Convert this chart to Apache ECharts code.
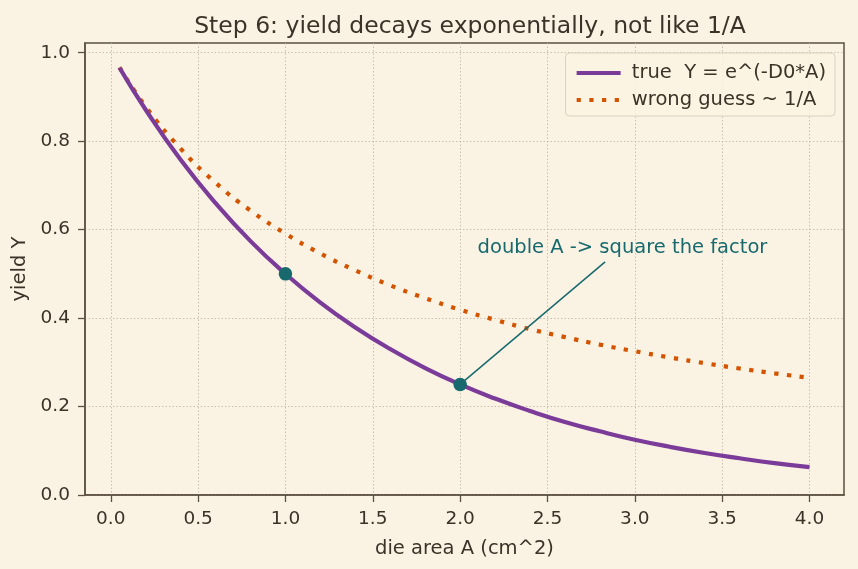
<!DOCTYPE html>
<html>
<head>
<meta charset="utf-8">
<script src="https://cdn.jsdelivr.net/npm/echarts@6/dist/echarts.min.js"></script>
<style>
  html, body { margin: 0; padding: 0; background: #faf3e3; }
  #chart { width: 858px; height: 569px; }
</style>
</head>
<body>
<div id="chart"></div>
<script>
// die area A (cm^2)
var areas = [0.05, 0.2, 0.4, 0.6, 0.8, 1.0, 1.2, 1.4, 1.6, 1.8, 2.0, 2.2, 2.4, 2.6, 2.8, 3.0, 3.2, 3.4, 3.6, 3.8, 4.0];
var trueYield = [0.966, 0.871, 0.758, 0.660, 0.574, 0.500, 0.435, 0.379, 0.330, 0.287, 0.250, 0.218, 0.190, 0.165, 0.144, 0.125, 0.109, 0.095, 0.083, 0.072, 0.063];
var wrongYield = [0.967, 0.878, 0.783, 0.706, 0.643, 0.591, 0.546, 0.508, 0.474, 0.445, 0.419, 0.396, 0.375, 0.357, 0.340, 0.325, 0.311, 0.298, 0.286, 0.275, 0.265];
var markedPts = [[1.0, 0.5], [2.0, 0.25]];
var xTicks = [0, 0.5, 1.0, 1.5, 2.0, 2.5, 3.0, 3.5, 4.0];
var yTicks = [0, 0.2, 0.4, 0.6, 0.8, 1.0];
var annText = 'double A -> square the factor';
var annTextAt = [2.1, 0.55];
var annFrom = [2.83, 0.527];
var annTo = [2.0, 0.25];

var ink = '#3b3228';
var teal = '#17696e';
var frame = '#5c5040';
var purple = '#7b3b99';
var orange = '#d35400';
var dots = [4.2, 8.5];

function pairs(xs, ys) {
  var out = [];
  for (var i = 0; i < xs.length; i++) out.push([xs[i], ys[i]]);
  return out;
}

var chart = echarts.init(document.getElementById('chart'));
var option = {
  backgroundColor: '#faf3e3',
  animation: false,
  textStyle: { fontFamily: 'DejaVu Sans', color: ink },
  title: {
    text: 'Step 6: yield decays exponentially, not like 1/A',
    left: 465, top: 10, textAlign: 'center',
    textStyle: { fontSize: 23.5, fontWeight: 'normal', color: ink, fontFamily: 'DejaVu Sans' }
  },
  legend: {
    orient: 'vertical', right: 23, top: 53,
    itemWidth: 44, itemHeight: 14, itemGap: 7,
    padding: [10, 9, 6, 9],
    backgroundColor: 'rgba(250,243,227,0.85)',
    borderColor: '#d9d1c1', borderWidth: 1, borderRadius: 4,
    itemStyle: { opacity: 0 },
    textStyle: { fontSize: 19.5, color: ink, fontFamily: 'DejaVu Sans' },
    formatter: function (n) { return ' ' + n; },
    data: [
      { name: 'true  Y = e^(-D0*A)', lineStyle: { color: purple, width: 4.2, type: 'solid' } },
      { name: 'wrong guess ~ 1/A', lineStyle: { color: orange, width: 4.2, type: dots, cap: 'butt' } }
    ]
  },
  grid: { left: 85, right: 14, top: 43, bottom: 74, show: true, borderColor: frame, borderWidth: 1.5, backgroundColor: 'transparent' },
  xAxis: {
    type: 'value', min: -0.1475, max: 4.1975,
    name: 'die area A (cm^2)', nameLocation: 'middle', nameGap: 44,
    nameTextStyle: { fontSize: 19.5, color: ink },
    axisLine: { onZero: false, lineStyle: { color: frame, width: 1.5 } },
    axisTick: { show: true, length: 7, customValues: xTicks, lineStyle: { color: frame, width: 1.3 } },
    axisLabel: { customValues: xTicks, fontSize: 18.5, color: ink, margin: 15,
      formatter: function (v) { return v.toFixed(1); } },
    splitLine: { show: true, lineStyle: { color: '#bcb3a2', type: [1.5, 2], width: 0.8 } }
  },
  yAxis: {
    type: 'value', min: 0, max: 1.022,
    name: 'yield Y', nameLocation: 'middle', nameGap: 48,
    nameTextStyle: { fontSize: 19.5, color: ink },
    axisLine: { show: true, onZero: false, lineStyle: { color: frame, width: 1.5 } },
    axisTick: { show: true, length: 7, customValues: yTicks, lineStyle: { color: frame, width: 1.3 } },
    axisLabel: { customValues: yTicks, fontSize: 18.5, color: ink, margin: 15,
      formatter: function (v) { return v.toFixed(1); } },
    splitLine: { show: true, lineStyle: { color: '#bcb3a2', type: [1.5, 2], width: 0.8 } }
  },
  series: [
    {
      name: 'true  Y = e^(-D0*A)', type: 'line', smooth: true, symbol: 'none',
      data: pairs(areas, trueYield),
      itemStyle: { color: purple },
      lineStyle: { color: purple, width: 4.2 },
      z: 3
    },
    {
      name: 'wrong guess ~ 1/A', type: 'line', smooth: true, symbol: 'none',
      data: pairs(areas, wrongYield),
      itemStyle: { color: orange },
      lineStyle: { color: orange, width: 4.2, type: dots, cap: 'butt' },
      z: 2
    },
    {
      name: 'marks', type: 'scatter', symbolSize: 13.5,
      data: markedPts,
      itemStyle: { color: teal, opacity: 1 },
      z: 5,
      markLine: {
        silent: true, symbol: ['none', 'arrow'], symbolSize: [0, 10],
        label: { show: false },
        lineStyle: { color: teal, width: 1.5, type: 'solid' },
        data: [[{ coord: annFrom }, { coord: annTo }]]
      },
      markPoint: {
        silent: true, symbol: 'circle', symbolSize: 0,
        data: [{ coord: annTextAt }],
        label: {
          show: true, position: 'right', distance: 0, offset: [0, -4],
          formatter: annText, fontSize: 19.5, color: teal, fontFamily: 'DejaVu Sans'
        }
      }
    }
  ]
};
chart.setOption(option);
</script>
</body>
</html>
